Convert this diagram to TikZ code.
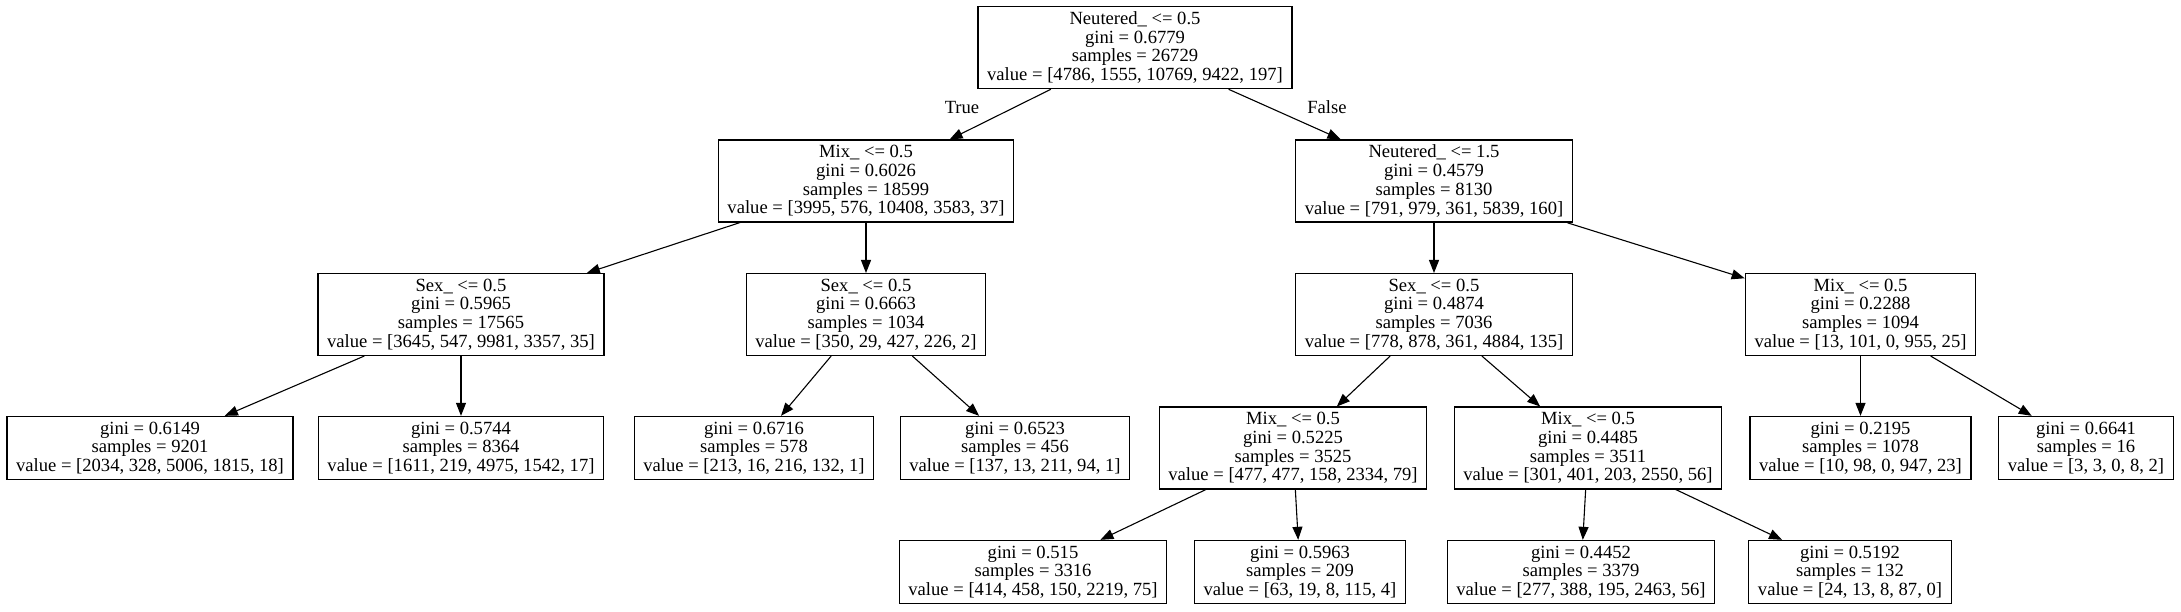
\documentclass[tikz,border=0pt]{standalone}
\usepackage{fontspec}
\setmainfont{Liberation Serif}
\usetikzlibrary{arrows.meta}
\tikzset{
  >={Triangle[length=6.5pt, width=5pt]},
  px/.style={x=0.5pt, y=-0.5pt},
  treefont/.style={font=\fontsize{9.3}{9.35}\selectfont},
  box/.style={draw, line width=0.65pt, rectangle, align=center, inner xsep=4.6pt, inner ysep=2.6pt, treefont},
  branch/.style={->, line width=0.55pt},
  side/.style={treefont, inner sep=0pt},
}

\begin{document}
\begin{tikzpicture}[px]
  \useasboundingbox (0,0) rectangle (2181,611);
  % root and first split
  \node[box] (n0) at (1135,47.5) {Neutered\_ <= 0.5\\gini = 0.6779\\samples = 26729\\value = [4786, 1555, 10769, 9422, 197]};
  \node[box] (n1) at (866,181) {Mix\_ <= 0.5\\gini = 0.6026\\samples = 18599\\value = [3995, 576, 10408, 3583, 37]};
  \node[box] (n8) at (1434,181) {Neutered\_ <= 1.5\\gini = 0.4579\\samples = 8130\\value = [791, 979, 361, 5839, 160]};
  % second level
  \node[box] (n2) at (461,314.5) {Sex\_ <= 0.5\\gini = 0.5965\\samples = 17565\\value = [3645, 547, 9981, 3357, 35]};
  \node[box] (n5) at (866,314.5) {Sex\_ <= 0.5\\gini = 0.6663\\samples = 1034\\value = [350, 29, 427, 226, 2]};
  \node[box] (n9) at (1434,314.5) {Sex\_ <= 0.5\\gini = 0.4874\\samples = 7036\\value = [778, 878, 361, 4884, 135]};
  \node[box] (n16) at (1860.5,314.5) {Mix\_ <= 0.5\\gini = 0.2288\\samples = 1094\\value = [13, 101, 0, 955, 25]};
  % third level
  \node[box] (n3) at (150,448) {gini = 0.6149\\samples = 9201\\value = [2034, 328, 5006, 1815, 18]};
  \node[box] (n4) at (461,448) {gini = 0.5744\\samples = 8364\\value = [1611, 219, 4975, 1542, 17]};
  \node[box] (n6) at (754,448) {gini = 0.6716\\samples = 578\\value = [213, 16, 216, 132, 1]};
  \node[box] (n7) at (1015,448) {gini = 0.6523\\samples = 456\\value = [137, 13, 211, 94, 1]};
  \node[box] (n10) at (1293,448) {Mix\_ <= 0.5\\gini = 0.5225\\samples = 3525\\value = [477, 477, 158, 2334, 79]};
  \node[box] (n13) at (1588,448) {Mix\_ <= 0.5\\gini = 0.4485\\samples = 3511\\value = [301, 401, 203, 2550, 56]};
  \node[box] (n17) at (1860.5,448) {gini = 0.2195\\samples = 1078\\value = [10, 98, 0, 947, 23]};
  \node[box] (n18) at (2086,448) {gini = 0.6641\\samples = 16\\value = [3, 3, 0, 8, 2]};
  % fourth level
  \node[box] (n11) at (1033,572) {gini = 0.515\\samples = 3316\\value = [414, 458, 150, 2219, 75]};
  \node[box] (n12) at (1300,572) {gini = 0.5963\\samples = 209\\value = [63, 19, 8, 115, 4]};
  \node[box] (n14) at (1581,572) {gini = 0.4452\\samples = 3379\\value = [277, 388, 195, 2463, 56]};
  \node[box] (n15) at (1850,572) {gini = 0.5192\\samples = 132\\value = [24, 13, 8, 87, 0]};
  % branches
  \foreach \a/\b in {0/1, 1/2, 2/3, 2/4, 1/5, 5/6, 5/7, 0/8, 8/9, 9/10, 10/11, 10/12, 9/13, 13/14, 13/15, 8/16, 16/17, 16/18}
    \draw[branch] (n\a) -- (n\b);
  \node[side] (true) at (962,107) {True};
  \node[side] (false) at (1327,107) {False};
\end{tikzpicture}
\end{document}
